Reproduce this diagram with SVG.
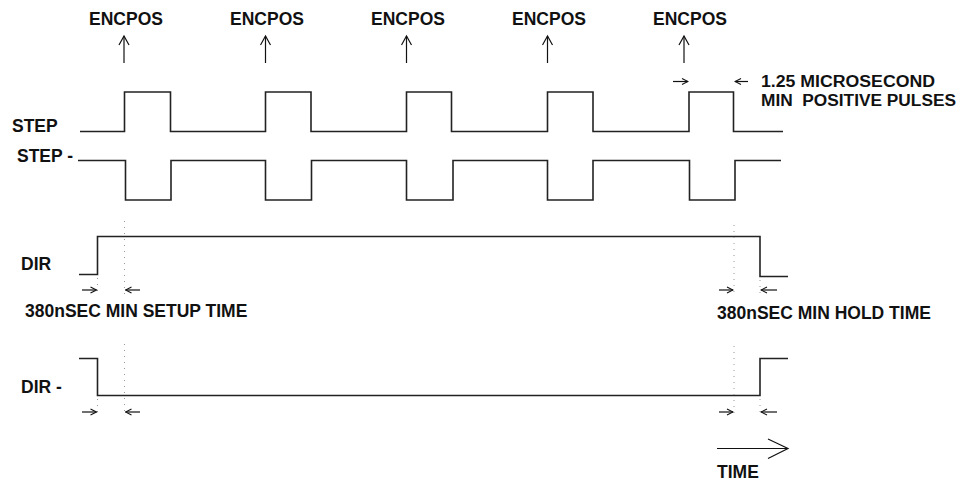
<svg xmlns="http://www.w3.org/2000/svg" width="974" height="485" viewBox="0 0 974 485">
<style>
text{font-family:"Liberation Sans",Arial,sans-serif;font-weight:bold;font-size:17.5px;fill:#111}
text.n{font-size:16px}
.w{fill:none;stroke:#222;stroke-width:1.6}
.d{fill:none;stroke:#999;stroke-width:1;stroke-dasharray:1 5}
.a{fill:none;stroke:#111;stroke-width:1.2}
.e{fill:none;stroke:#111;stroke-width:1.2}
</style>
<defs>
<marker id="oh" markerWidth="8" markerHeight="8" refX="7" refY="4" orient="auto" markerUnits="userSpaceOnUse">
<path d="M1,1 L7,4 L1,7" fill="none" stroke="#111" stroke-width="1.1"/>
</marker>
<marker id="up" markerWidth="12" markerHeight="12" refX="10" refY="6" orient="auto" markerUnits="userSpaceOnUse">
<path d="M1,1 L10,6 L1,11" fill="none" stroke="#111" stroke-width="1.2"/>
</marker>
</defs>

<g id="encpos">
<text x="126" y="25" text-anchor="middle">ENCPOS</text>
<text x="267" y="25" text-anchor="middle">ENCPOS</text>
<text x="408" y="25" text-anchor="middle">ENCPOS</text>
<text x="549" y="25" text-anchor="middle">ENCPOS</text>
<text x="690" y="25" text-anchor="middle">ENCPOS</text>
</g>

<g id="labels">
<text x="12" y="132">STEP</text>
<text x="17" y="162">STEP -</text>
<text x="21" y="270">DIR</text>
<text x="21" y="393">DIR -</text>
<text class="n" x="761" y="87" textLength="174" lengthAdjust="spacingAndGlyphs">1.25 MICROSECOND</text>
<text class="n" x="761" y="106" textLength="195" lengthAdjust="spacingAndGlyphs" xml:space="preserve">MIN  POSITIVE PULSES</text>
<text x="25" y="317">380nSEC MIN SETUP TIME</text>
<text x="717" y="319">380nSEC MIN HOLD TIME</text>
<text x="717" y="478">TIME</text>
</g>

<g id="step">
<path class="w" d="M80,131.5 H124.5 V92 H170.5 V131.5 H265.5 V92 H311 V131.5 H406.5 V92 H451.5 V131.5 H547.5 V92 H593 V131.5 H689 V92 H733.5 V131.5 H783"/>
</g>
<g id="step-n">
<path class="w" d="M78,160.5 H125.5 V200 H171 V160.5 H265.5 V200 H311.5 V160.5 H406.5 V200 H453 V160.5 H547.5 V200 H593 V160.5 H689.5 V200 H735 V160.5 H781"/>
</g>
<g id="dir">
<path class="w" d="M79,274.5 H97.5 V236.5 H760 V276.5 H788"/>
</g>
<g id="dir-n">
<path class="w" d="M79,358.5 H97.5 V395.5 H760 V358.5 H788"/>
</g>

<g id="connectors">
<line class="e" x1="124" y1="63" x2="124" y2="36" marker-end="url(#up)"/>
<line class="e" x1="265.5" y1="63" x2="265.5" y2="36" marker-end="url(#up)"/>
<line class="e" x1="406.5" y1="63" x2="406.5" y2="36" marker-end="url(#up)"/>
<line class="e" x1="547.5" y1="63" x2="547.5" y2="36" marker-end="url(#up)"/>
<line class="e" x1="684" y1="63" x2="684" y2="36" marker-end="url(#up)"/>

<line class="a" x1="673" y1="81.5" x2="688" y2="81.5" marker-end="url(#oh)"/>
<line class="a" x1="748" y1="81.5" x2="735" y2="81.5" marker-end="url(#oh)"/>

<line class="d" x1="124.5" y1="221" x2="124.5" y2="294"/>
<line class="d" x1="97.5" y1="278" x2="97.5" y2="294"/>
<line class="d" x1="734" y1="225" x2="734" y2="294"/>
<line class="d" x1="760" y1="280" x2="760" y2="294"/>
<line class="a" x1="82" y1="290" x2="96.5" y2="290" marker-end="url(#oh)"/>
<line class="a" x1="140" y1="290" x2="125.5" y2="290" marker-end="url(#oh)"/>
<line class="a" x1="719" y1="290" x2="733" y2="290" marker-end="url(#oh)"/>
<line class="a" x1="777" y1="290" x2="761" y2="290" marker-end="url(#oh)"/>

<line class="d" x1="124.5" y1="344" x2="124.5" y2="416"/>
<line class="d" x1="97.5" y1="399" x2="97.5" y2="416"/>
<line class="d" x1="734" y1="346" x2="734" y2="416"/>
<line class="d" x1="760" y1="399" x2="760" y2="416"/>
<line class="a" x1="82" y1="412" x2="96.5" y2="412" marker-end="url(#oh)"/>
<line class="a" x1="140" y1="412" x2="125.5" y2="412" marker-end="url(#oh)"/>
<line class="a" x1="719" y1="412" x2="733" y2="412" marker-end="url(#oh)"/>
<line class="a" x1="777" y1="412" x2="761" y2="412" marker-end="url(#oh)"/>

<path class="a" d="M717,448.5 H788 M768,439 L788,448.5 L768,458.5"/>
</g>
</svg>
